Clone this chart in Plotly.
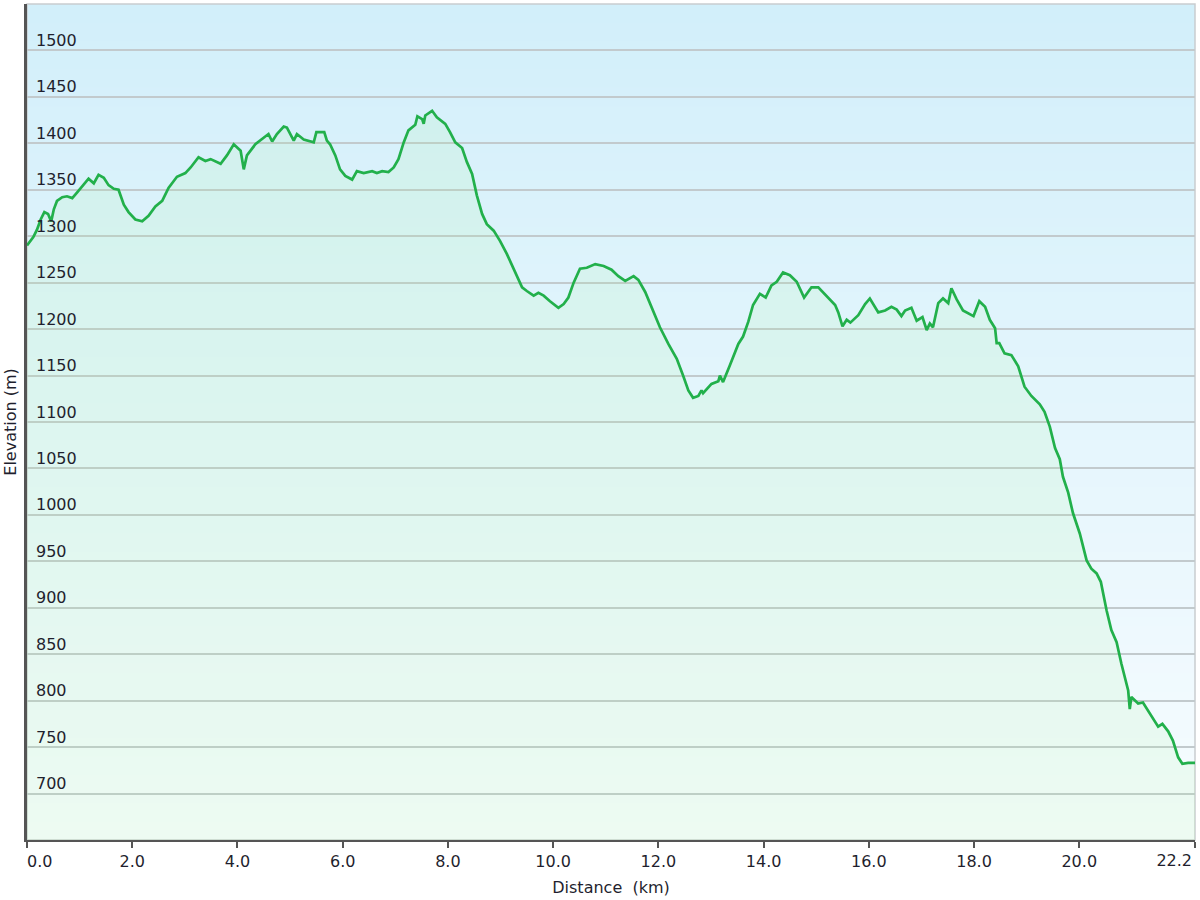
import plotly.graph_objects as go

# ---- data (distance in km, elevation in m) ----
distance_km = [
    0.00, 0.12, 0.19, 0.26, 0.33, 0.40, 0.46, 0.51, 0.57, 0.67, 0.76, 0.86, 0.95, 1.05, 1.17,
    1.27, 1.36, 1.46, 1.55, 1.65, 1.74, 1.84, 1.93, 2.06, 2.19, 2.31, 2.44, 2.57, 2.69, 2.85,
    3.01, 3.11, 3.26, 3.39, 3.49, 3.68, 3.80, 3.93, 4.06, 4.12, 4.18, 4.34, 4.47, 4.59, 4.66,
    4.75, 4.88, 4.94, 5.07, 5.13, 5.26, 5.45, 5.50, 5.65, 5.70, 5.76, 5.86, 5.95, 6.05, 6.18,
    6.27, 6.40, 6.56, 6.65, 6.75, 6.87, 6.97, 7.06, 7.16, 7.25, 7.38, 7.42, 7.51, 7.54, 7.57,
    7.70, 7.79, 7.95, 8.04, 8.14, 8.27, 8.36, 8.46, 8.55, 8.65, 8.74, 8.87, 8.99, 9.12, 9.25,
    9.41, 9.50, 9.63, 9.72, 9.82, 9.94, 10.10, 10.20, 10.29, 10.39, 10.51, 10.64, 10.80, 10.96,
    11.11, 11.24, 11.37, 11.53, 11.62, 11.75, 11.87, 12.03, 12.19, 12.35, 12.47, 12.57, 12.66,
    12.76, 12.82, 12.85, 13.01, 13.14, 13.17, 13.23, 13.36, 13.52, 13.61, 13.71, 13.80, 13.93,
    14.04, 14.15, 14.25, 14.37, 14.50, 14.63, 14.77, 14.91, 15.04, 15.20, 15.36, 15.42, 15.50,
    15.58, 15.65, 15.80, 15.93, 16.02, 16.18, 16.31, 16.43, 16.53, 16.62, 16.69, 16.81, 16.91,
    16.97, 17.02, 17.10, 17.16, 17.22, 17.32, 17.41, 17.51, 17.57, 17.67, 17.79, 17.99, 18.10,
    18.21, 18.30, 18.40, 18.43, 18.48, 18.58, 18.71, 18.84, 18.96, 19.09, 19.25, 19.34, 19.44,
    19.54, 19.63, 19.69, 19.79, 19.88, 20.01, 20.14, 20.23, 20.33, 20.41, 20.52, 20.61, 20.71,
    20.80, 20.93, 20.96, 20.99, 21.12, 21.21, 21.37, 21.50, 21.58, 21.69, 21.78, 21.88, 21.96,
    22.07, 22.18, 22.20,
]
elevation_m = [
    1290, 1299, 1307, 1318, 1326, 1324, 1316, 1329, 1338, 1342, 1343, 1341, 1347, 1354, 1362,
    1357, 1366, 1363, 1355, 1351, 1350, 1334, 1326, 1318, 1316, 1322, 1332, 1338, 1352, 1364,
    1368, 1374, 1385, 1381, 1383, 1378, 1387, 1399, 1392, 1372, 1387, 1399, 1405, 1410, 1402,
    1410, 1418, 1417, 1403, 1410, 1404, 1401, 1412, 1412, 1403, 1399, 1387, 1372, 1365, 1361,
    1370, 1368, 1370, 1368, 1370, 1369, 1374, 1383, 1401, 1414, 1420, 1429, 1426, 1421, 1430,
    1435, 1428, 1421, 1412, 1401, 1395, 1380, 1367, 1344, 1324, 1313, 1306, 1295, 1281, 1265,
    1245, 1241, 1236, 1239, 1236, 1230, 1223, 1227, 1234, 1250, 1265, 1266, 1270, 1268,
    1264, 1257, 1252, 1257, 1253, 1240, 1224, 1202, 1184, 1168, 1150, 1134, 1126,
    1128, 1134, 1131, 1141, 1144, 1150, 1143, 1161, 1184, 1192, 1208, 1226, 1238,
    1234, 1247, 1251, 1261, 1258, 1251, 1234, 1245, 1245, 1236, 1226, 1218, 1203,
    1210, 1207, 1215, 1227, 1233, 1218, 1220, 1224, 1221, 1214, 1220, 1223, 1209,
    1211, 1213, 1199, 1206, 1202, 1228, 1233, 1228, 1244, 1232, 1220, 1214, 1230,
    1224, 1210, 1201, 1185, 1185, 1174, 1172, 1160, 1138, 1128, 1119, 1111, 1095,
    1072, 1060, 1041, 1024, 1002, 980, 951, 942, 937, 928, 897, 876, 863,
    840, 811, 791, 804, 797, 798, 784, 772, 775, 767, 757, 739, 732,
    733, 733, 733,
]

x_tick_vals = [0, 2, 4, 6, 8, 10, 12, 14, 16, 18, 20, 22.2]
x_tick_text = ["0.0", "2.0", "4.0", "6.0", "8.0", "10.0", "12.0", "14.0", "16.0", "18.0", "20.0", "22.2"]
y_tick_vals = list(range(700, 1501, 50))
y_range = [650, 1550]
x_range = [0, 22.2]

FONT = "DejaVu Sans"
TEXT = "#1f1f2e"
NB = "\u00a0"

# first label sits to the right of its tick like the original; the last one is drawn
# right-aligned by a companion axis (xaxis2)
x_tick_labels = list(x_tick_text)
x_tick_labels[0] = NB * 5 + x_tick_labels[0]
x_tick_labels[-1] = ""

fig = go.Figure()
fig.add_trace(go.Scatter(
    x=distance_km, y=elevation_m, mode="lines",
    line=dict(color="#22b04b", width=2.7),
    fill="tozeroy", fillcolor="rgba(172,244,155,0.13)",
    hoverinfo="x+y", showlegend=False,
))
# invisible companion so the label-only axes get drawn
fig.add_trace(go.Scatter(
    x=distance_km[:1], y=elevation_m[:1], xaxis="x2", yaxis="y2", mode="markers",
    marker=dict(opacity=0), hoverinfo="skip", showlegend=False,
))

# background vertical gradient (decoration)
top = (210, 239, 250)
bot = (247, 252, 255)
n = 90
shapes = []
for i in range(n):
    t = i / (n - 1)
    c = tuple(round(bot[k] + (top[k] - bot[k]) * t) for k in range(3))
    shapes.append(dict(
        type="rect", xref="x domain", yref="y domain",
        x0=0, x1=1, y0=i / n, y1=min(1, (i + 1) / n + 0.002),
        fillcolor="rgb(%d,%d,%d)" % c, line=dict(width=0), layer="below",
    ))
shapes.append(dict(
    type="rect", xref="x domain", yref="y domain", x0=0, x1=1, y0=0, y1=1,
    fillcolor="rgba(0,0,0,0)", line=dict(color="#c9cdd0", width=1.5), layer="below",
))

tickfont = dict(family=FONT, size=16, color=TEXT)

fig.update_layout(
    width=1200, height=900,
    margin=dict(l=27, r=5, t=4, b=60),
    paper_bgcolor="white", plot_bgcolor="white",
    font=dict(family=FONT, size=16, color=TEXT),
    shapes=shapes,
    showlegend=False,
    xaxis=dict(
        range=x_range, tickvals=x_tick_vals, ticktext=x_tick_labels,
        showgrid=False, zeroline=False, automargin=False,
        showline=True, linecolor="#555555", linewidth=2,
        ticks="outside", ticklen=6, tickwidth=2, tickcolor="#555555",
        ticklabeloverflow="allow",
        tickfont=tickfont,
        title=dict(text="Distance" + NB + " (km)", font=tickfont, standoff=12),
    ),
    xaxis2=dict(
        range=x_range, tickvals=x_tick_vals[-1:], ticktext=x_tick_text[-1:],
        overlaying="x", anchor="y", side="bottom",
        showgrid=False, zeroline=False, showline=False, automargin=False,
        ticks="", ticklabelposition="outside left", ticklabeloverflow="allow",
        ticklabelstandoff=9, ticklabelshift=-3,
        tickfont=tickfont,
    ),
    yaxis=dict(
        range=y_range, tickvals=y_tick_vals,
        showgrid=True, gridcolor="#c2cacd", gridwidth=1.6,
        zeroline=False, automargin=False,
        showline=True, linecolor="#555555", linewidth=2.5,
        ticks="", showticklabels=False,
        title=dict(text="Elevation (m)", font=tickfont, standoff=4),
    ),
    # label-only axis on the left edge with labels drawn to its right (inside the plot)
    yaxis2=dict(
        range=y_range, tickvals=y_tick_vals,
        overlaying="y", anchor="free", position=0, side="right",
        showgrid=False, zeroline=False, showline=False, automargin=False,
        ticks="", ticklabelshift=-10, ticklabelstandoff=8,
        tickfont=tickfont,
    ),
)

fig.write_html("out.html", config={"displayModeBar": False},
               post_script="document.body.style.margin='0';")
